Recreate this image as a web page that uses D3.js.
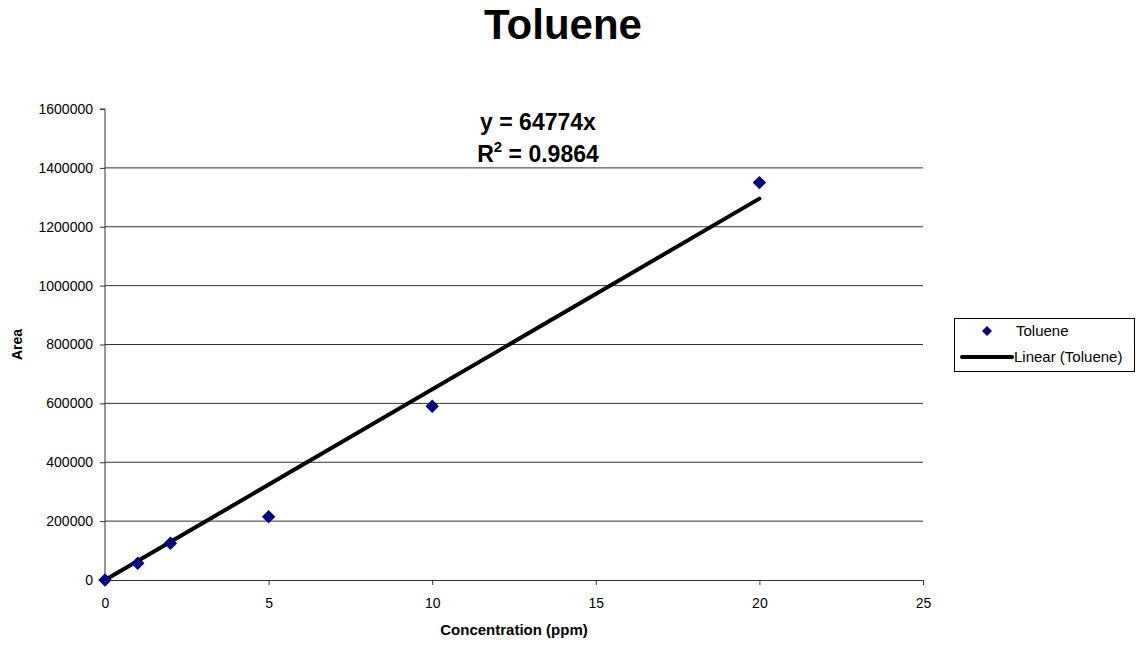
<!DOCTYPE html>
<html>
<head>
<meta charset="utf-8">
<script src="https://cdn.jsdelivr.net/npm/d3@7"></script>
<style>
  body { margin: 0; background: #fff; }
  svg { font-family: "Liberation Sans", Arial, sans-serif; }
</style>
</head>
<body>
<div id="chart"></div>
<script>
// Toluene calibration data
var concentration = [0, 1, 2, 5, 10, 20];
var area = [0, 57000, 125000, 215000, 590000, 1350000];
var slope = 64774;
var rSquared = "0.9864";
var xTicks = [0, 5, 10, 15, 20, 25];
var yTicks = [0, 200000, 400000, 600000, 800000, 1000000, 1200000, 1400000, 1600000];

var width = 1144;
var height = 646;

var plot = { left: 105, right: 923, top: 109, bottom: 580 };

var svg = d3.select("#chart")
  .append("svg")
  .attr("width", width)
  .attr("height", height);

var xScale = d3.scaleLinear().domain([0, 25]).range([plot.left, plot.right]);
var yScale = d3.scaleLinear().domain([0, 1600000]).range([plot.bottom, plot.top]);

// gridlines (top one not drawn)
svg.append("g")
  .selectAll("line")
  .data(yTicks.filter(function(d) { return d > 0 && d < 1600000; }))
  .enter()
  .append("line")
  .attr("x1", plot.left)
  .attr("x2", plot.right)
  .attr("y1", function(d) { return yScale(d); })
  .attr("y2", function(d) { return yScale(d); })
  .attr("stroke", "#333")
  .attr("stroke-width", 1);

var xAxis = d3.axisBottom(xScale).tickValues(xTicks).tickFormat(d3.format("d"))
  .tickSizeInner(5).tickSizeOuter(5).tickPadding(13);
var yAxis = d3.axisLeft(yScale).tickValues(yTicks).tickFormat(d3.format("d"))
  .tickSizeInner(5).tickSizeOuter(5).tickPadding(7);

var gx = svg.append("g")
  .attr("transform", "translate(0," + plot.bottom + ")")
  .call(xAxis);
var gy = svg.append("g")
  .attr("transform", "translate(" + plot.left + ",0)")
  .call(yAxis);

[gx, gy].forEach(function(g) {
  g.select(".domain").attr("stroke", "#333");
  g.selectAll(".tick line").attr("stroke", "#333");
  g.selectAll("text")
    .attr("fill", "#000")
    .style("font-size", "14px")
    .style("font-family", "Liberation Sans, Arial, sans-serif");
});
gy.select(".domain").attr("d", "M0," + plot.bottom + "V" + plot.top + "H-5");

// trend line
var trend = d3.line()
  .x(function(d) { return xScale(d); })
  .y(function(d) { return yScale(slope * d); });

svg.append("path")
  .datum([0, 20])
  .attr("d", trend)
  .attr("fill", "none")
  .attr("stroke", "#000")
  .attr("stroke-width", 4)
  .attr("stroke-linecap", "round");

// points
var diamond = d3.symbol().type(d3.symbolSquare).size(90);
svg.append("g")
  .selectAll("path")
  .data(concentration)
  .enter()
  .append("path")
  .attr("d", diamond)
  .attr("transform", function(d, i) {
    return "translate(" + xScale(d) + "," + yScale(area[i]) + ") rotate(45)";
  })
  .attr("fill", "#000080");

// title
svg.append("text")
  .attr("x", 563)
  .attr("y", 39)
  .attr("text-anchor", "middle")
  .style("font-size", "42px")
  .style("font-weight", "bold")
  .text("Toluene");

// equation
svg.append("text")
  .attr("x", 538)
  .attr("y", 130)
  .attr("text-anchor", "middle")
  .style("font-size", "23px")
  .style("font-weight", "bold")
  .text("y = " + slope + "x");

var r2 = svg.append("text")
  .attr("x", 538)
  .attr("y", 162)
  .attr("text-anchor", "middle")
  .style("font-size", "23px")
  .style("font-weight", "bold");
r2.append("tspan").text("R");
r2.append("tspan").attr("dy", -10).style("font-size", "15px").text("2");
r2.append("tspan").attr("dy", 10).text(" = " + rSquared);

// axis titles
svg.append("text")
  .attr("transform", "translate(22," + ((plot.top + plot.bottom) / 2) + ") rotate(-90)")
  .attr("text-anchor", "middle")
  .style("font-size", "14px")
  .style("font-weight", "bold")
  .text("Area");

svg.append("text")
  .attr("x", (plot.left + plot.right) / 2)
  .attr("y", 635)
  .attr("text-anchor", "middle")
  .style("font-size", "15px")
  .style("font-weight", "bold")
  .text("Concentration (ppm)");

// legend
var legend = svg.append("g");
legend.append("rect")
  .attr("x", 954.5)
  .attr("y", 318.5)
  .attr("width", 180)
  .attr("height", 53)
  .attr("fill", "#fff")
  .attr("stroke", "#000");
legend.append("path")
  .attr("d", d3.symbol().type(d3.symbolSquare).size(50))
  .attr("transform", "translate(987,331) rotate(45)")
  .attr("fill", "#000080");
legend.append("text")
  .attr("x", 1016)
  .attr("y", 336)
  .style("font-size", "15px")
  .text("Toluene");
legend.append("line")
  .attr("x1", 962).attr("x2", 1012)
  .attr("y1", 357).attr("y2", 357)
  .attr("stroke", "#000")
  .attr("stroke-width", 4)
  .attr("stroke-linecap", "round");
legend.append("text")
  .attr("x", 1014)
  .attr("y", 362)
  .style("font-size", "15px")
  .text("Linear (Toluene)");
</script>
</body>
</html>
